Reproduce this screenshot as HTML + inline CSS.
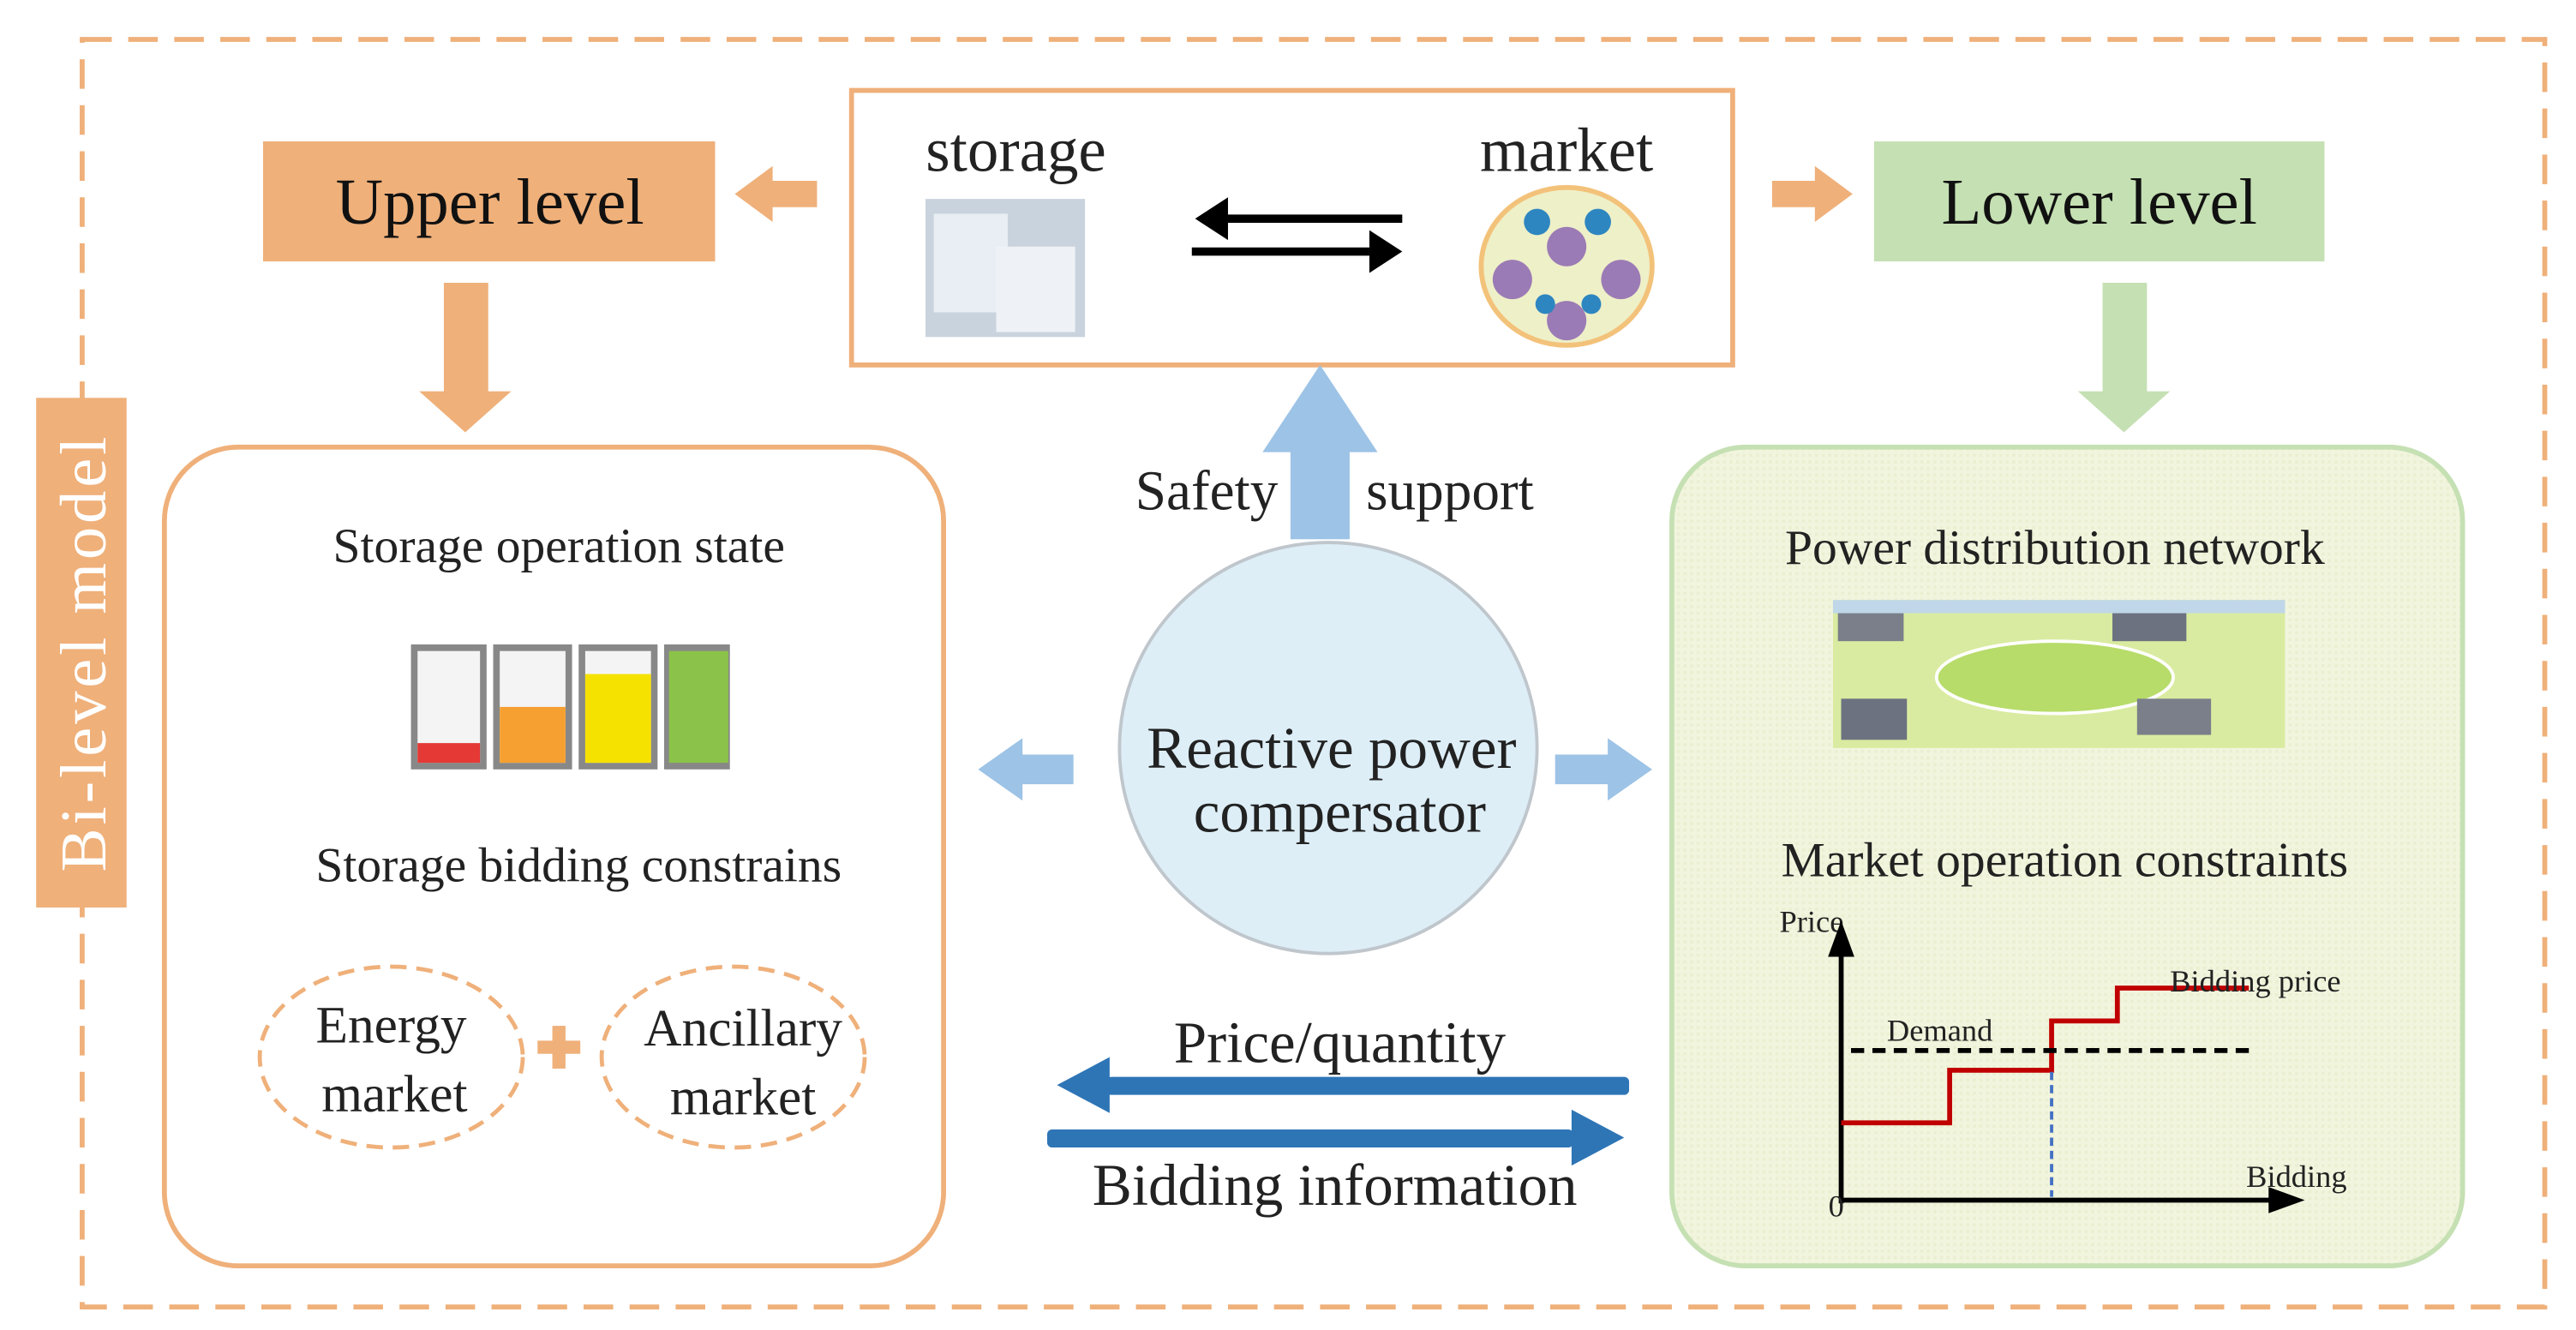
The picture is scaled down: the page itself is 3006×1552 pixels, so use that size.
<!DOCTYPE html>
<html><head><meta charset="utf-8"><style>
html,body{margin:0;padding:0;background:#fff;}
svg{display:block;}
text{font-family:"Liberation Serif",serif;fill:#222;}
</style></head><body>
<svg width="3006" height="1552" viewBox="0 0 1567 809" preserveAspectRatio="none" xmlns="http://www.w3.org/2000/svg">
<defs>
<pattern id="gp" width="4" height="4" patternUnits="userSpaceOnUse"><rect width="4" height="4" fill="#F2F5DE"/><rect width="2" height="2" fill="#EBEFD2"/></pattern>
</defs>
<rect x="50" y="24" width="1498" height="771" fill="none" stroke="#EFB07A" stroke-width="3" stroke-dasharray="18,10"/>
<rect x="22" y="242" width="55" height="310" fill="#EFB07A"/>
<text transform="translate(64,397) rotate(-90)" text-anchor="middle" font-size="40" style="fill:#fff" letter-spacing="2">Bi-level model</text>
<rect x="160" y="86" width="275" height="73" fill="#EFB07A"/>
<text x="298" y="136" text-anchor="middle" font-size="40" style="fill:#111">Upper level</text>
<rect x="1140" y="86" width="274" height="73" fill="#C5E0B3"/>
<text x="1277" y="136" text-anchor="middle" font-size="40" style="fill:#111">Lower level</text>
<rect x="518" y="55" width="536" height="167" fill="#fff" stroke="#EFB07A" stroke-width="3"/>
<text x="618" y="104" text-anchor="middle" font-size="38">storage</text>
<text x="953" y="104" text-anchor="middle" font-size="38">market</text>
<rect x="563" y="121" width="97" height="84" fill="#C9D3DD"/>
<rect x="568" y="130" width="45" height="60" fill="#E8EEF3"/>
<rect x="606" y="150" width="48" height="52" fill="#EEF2F6"/>
<ellipse cx="953" cy="162" rx="52" ry="48" fill="#EEF0C8" stroke="#F3C27A" stroke-width="3"/>
<circle cx="953" cy="150" r="12" fill="#9B7BB5"/>
<circle cx="920" cy="170" r="12" fill="#9B7BB5"/>
<circle cx="986" cy="170" r="12" fill="#9B7BB5"/>
<circle cx="953" cy="195" r="12" fill="#9B7BB5"/>
<circle cx="935" cy="135" r="8" fill="#2E86C1"/><circle cx="972" cy="135" r="8" fill="#2E86C1"/><circle cx="940" cy="185" r="6" fill="#2E86C1"/><circle cx="968" cy="185" r="6" fill="#2E86C1"/>
<line x1="745" y1="133" x2="853" y2="133" stroke="#000" stroke-width="5"/>
<polygon points="727,133 747,120 747,146" fill="#000"/>
<line x1="725" y1="153" x2="833" y2="153" stroke="#000" stroke-width="5"/>
<polygon points="853,153 833,140 833,166" fill="#000"/>
<polygon points="447,118 470,101 470,110 497,110 497,126 470,126 470,135" fill="#EFB07A"/>
<polygon points="1127,118 1104,101 1104,110 1078,110 1078,126 1104,126 1104,135" fill="#EFB07A"/>
<polygon points="270,172 297,172 297,238 311,238 283,263 255,238 270,238" fill="#EFB07A"/>
<polygon points="1279,172 1306,172 1306,238 1320,238 1292,263 1264,238 1279,238" fill="#C5E0B3"/>
<rect x="100" y="272" width="474" height="498" rx="45" fill="#fff" stroke="#EFB07A" stroke-width="3"/>
<text x="340" y="342" text-anchor="middle" font-size="30">Storage operation state</text>
<g>
<rect x="250" y="392" width="46" height="76" fill="#888"/><rect x="254" y="396" width="38" height="68" fill="#F4F4F4"/><rect x="254" y="452" width="38" height="12" fill="#E53935"/>
<rect x="300" y="392" width="48" height="76" fill="#888"/><rect x="304" y="396" width="40" height="68" fill="#F4F4F4"/><rect x="304" y="430" width="40" height="34" fill="#F5A030"/>
<rect x="352" y="392" width="48" height="76" fill="#888"/><rect x="356" y="396" width="40" height="68" fill="#F4F4F4"/><rect x="356" y="410" width="40" height="54" fill="#F6E200"/>
<rect x="404" y="392" width="40" height="76" fill="#888"/><rect x="407" y="396" width="36" height="68" fill="#8BC34A"/>
</g>
<text x="352" y="536" text-anchor="middle" font-size="30">Storage bidding constrains</text>
<ellipse cx="238" cy="643" rx="80" ry="55" fill="none" stroke="#EFB07A" stroke-width="2.5" stroke-dasharray="10,6"/>
<ellipse cx="446" cy="643" rx="80" ry="55" fill="none" stroke="#EFB07A" stroke-width="2.5" stroke-dasharray="10,6"/>
<text x="238" y="634" text-anchor="middle" font-size="32">Energy</text>
<text x="240" y="676" text-anchor="middle" font-size="32">market</text>
<text x="452" y="636" text-anchor="middle" font-size="32">Ancillary</text>
<text x="452" y="678" text-anchor="middle" font-size="32">market</text>
<rect x="336" y="624" width="8" height="26" fill="#EFB07A"/><rect x="327" y="633" width="26" height="8" fill="#EFB07A"/>
<rect x="1017" y="272" width="481" height="498" rx="45" fill="url(#gp)" stroke="#C5E0B3" stroke-width="3"/>
<text x="1250" y="343" text-anchor="middle" font-size="30">Power distribution network</text>
<rect x="1115" y="365" width="275" height="90" fill="#D9EBA0"/>
<ellipse cx="1250" cy="412" rx="72" ry="22" fill="#B7DC6A" stroke="#fff" stroke-width="2"/>
<rect x="1118" y="368" width="40" height="22" fill="#7A7F8A"/><rect x="1285" y="370" width="45" height="20" fill="#6C7280"/><rect x="1120" y="425" width="40" height="25" fill="#6C7280"/><rect x="1300" y="425" width="45" height="22" fill="#7A7F8A"/>
<rect x="1115" y="365" width="275" height="8" fill="#BFD7E8"/>
<text x="1256" y="533" text-anchor="middle" font-size="30">Market operation constraints</text>
<text x="1102" y="567" text-anchor="middle" font-size="19">Price</text>
<line x1="1120" y1="732" x2="1120" y2="580" stroke="#000" stroke-width="3"/>
<polygon points="1120,560 1112,582 1128,582" fill="#000"/>
<line x1="1120" y1="730" x2="1385" y2="730" stroke="#000" stroke-width="3"/>
<polygon points="1402,730 1380,722 1380,738" fill="#000"/>
<text x="1117" y="740" text-anchor="middle" font-size="19">0</text>
<polyline points="1120,683 1186,683 1186,651 1248,651 1248,621 1288,621 1288,601 1368,601" fill="none" stroke="#C00000" stroke-width="3"/>
<line x1="1126" y1="639" x2="1368" y2="639" stroke="#000" stroke-width="3" stroke-dasharray="8,5"/>
<line x1="1248" y1="652" x2="1248" y2="728" stroke="#4472C4" stroke-width="2" stroke-dasharray="5,3"/>
<text x="1180" y="633" text-anchor="middle" font-size="19">Demand</text>
<text x="1372" y="603" text-anchor="middle" font-size="19">Bidding price</text>
<text x="1397" y="722" text-anchor="middle" font-size="19">Bidding</text>
<polygon points="785,328 821,328 821,275 838,275 803,222 768,275 785,275" fill="#9DC3E6"/>
<text x="734" y="310" text-anchor="middle" font-size="34">Safety</text>
<text x="882" y="310" text-anchor="middle" font-size="34">support</text>
<ellipse cx="808" cy="455" rx="127" ry="125" fill="#DDEEF7" stroke="#BFC6CC" stroke-width="2"/>
<text x="810" y="467" text-anchor="middle" font-size="36">Reactive power</text>
<text x="815" y="506" text-anchor="middle" font-size="36">compersator</text>
<polygon points="595,468 622,449 622,459 653,459 653,477 622,477 622,487" fill="#9DC3E6"/>
<polygon points="1005,468 978,449 978,459 946,459 946,477 978,477 978,487" fill="#9DC3E6"/>
<text x="815" y="646" text-anchor="middle" font-size="36">Price/quantity</text>
<rect x="673" y="655" width="318" height="11" rx="3" fill="#2E75B6"/>
<polygon points="643,660 675,643 675,677" fill="#2E75B6"/>
<rect x="637" y="687" width="320" height="11" rx="3" fill="#2E75B6"/>
<polygon points="988,692 956,675 956,709" fill="#2E75B6"/>
<text x="812" y="733" text-anchor="middle" font-size="36">Bidding information</text>
</svg>
</body></html>
